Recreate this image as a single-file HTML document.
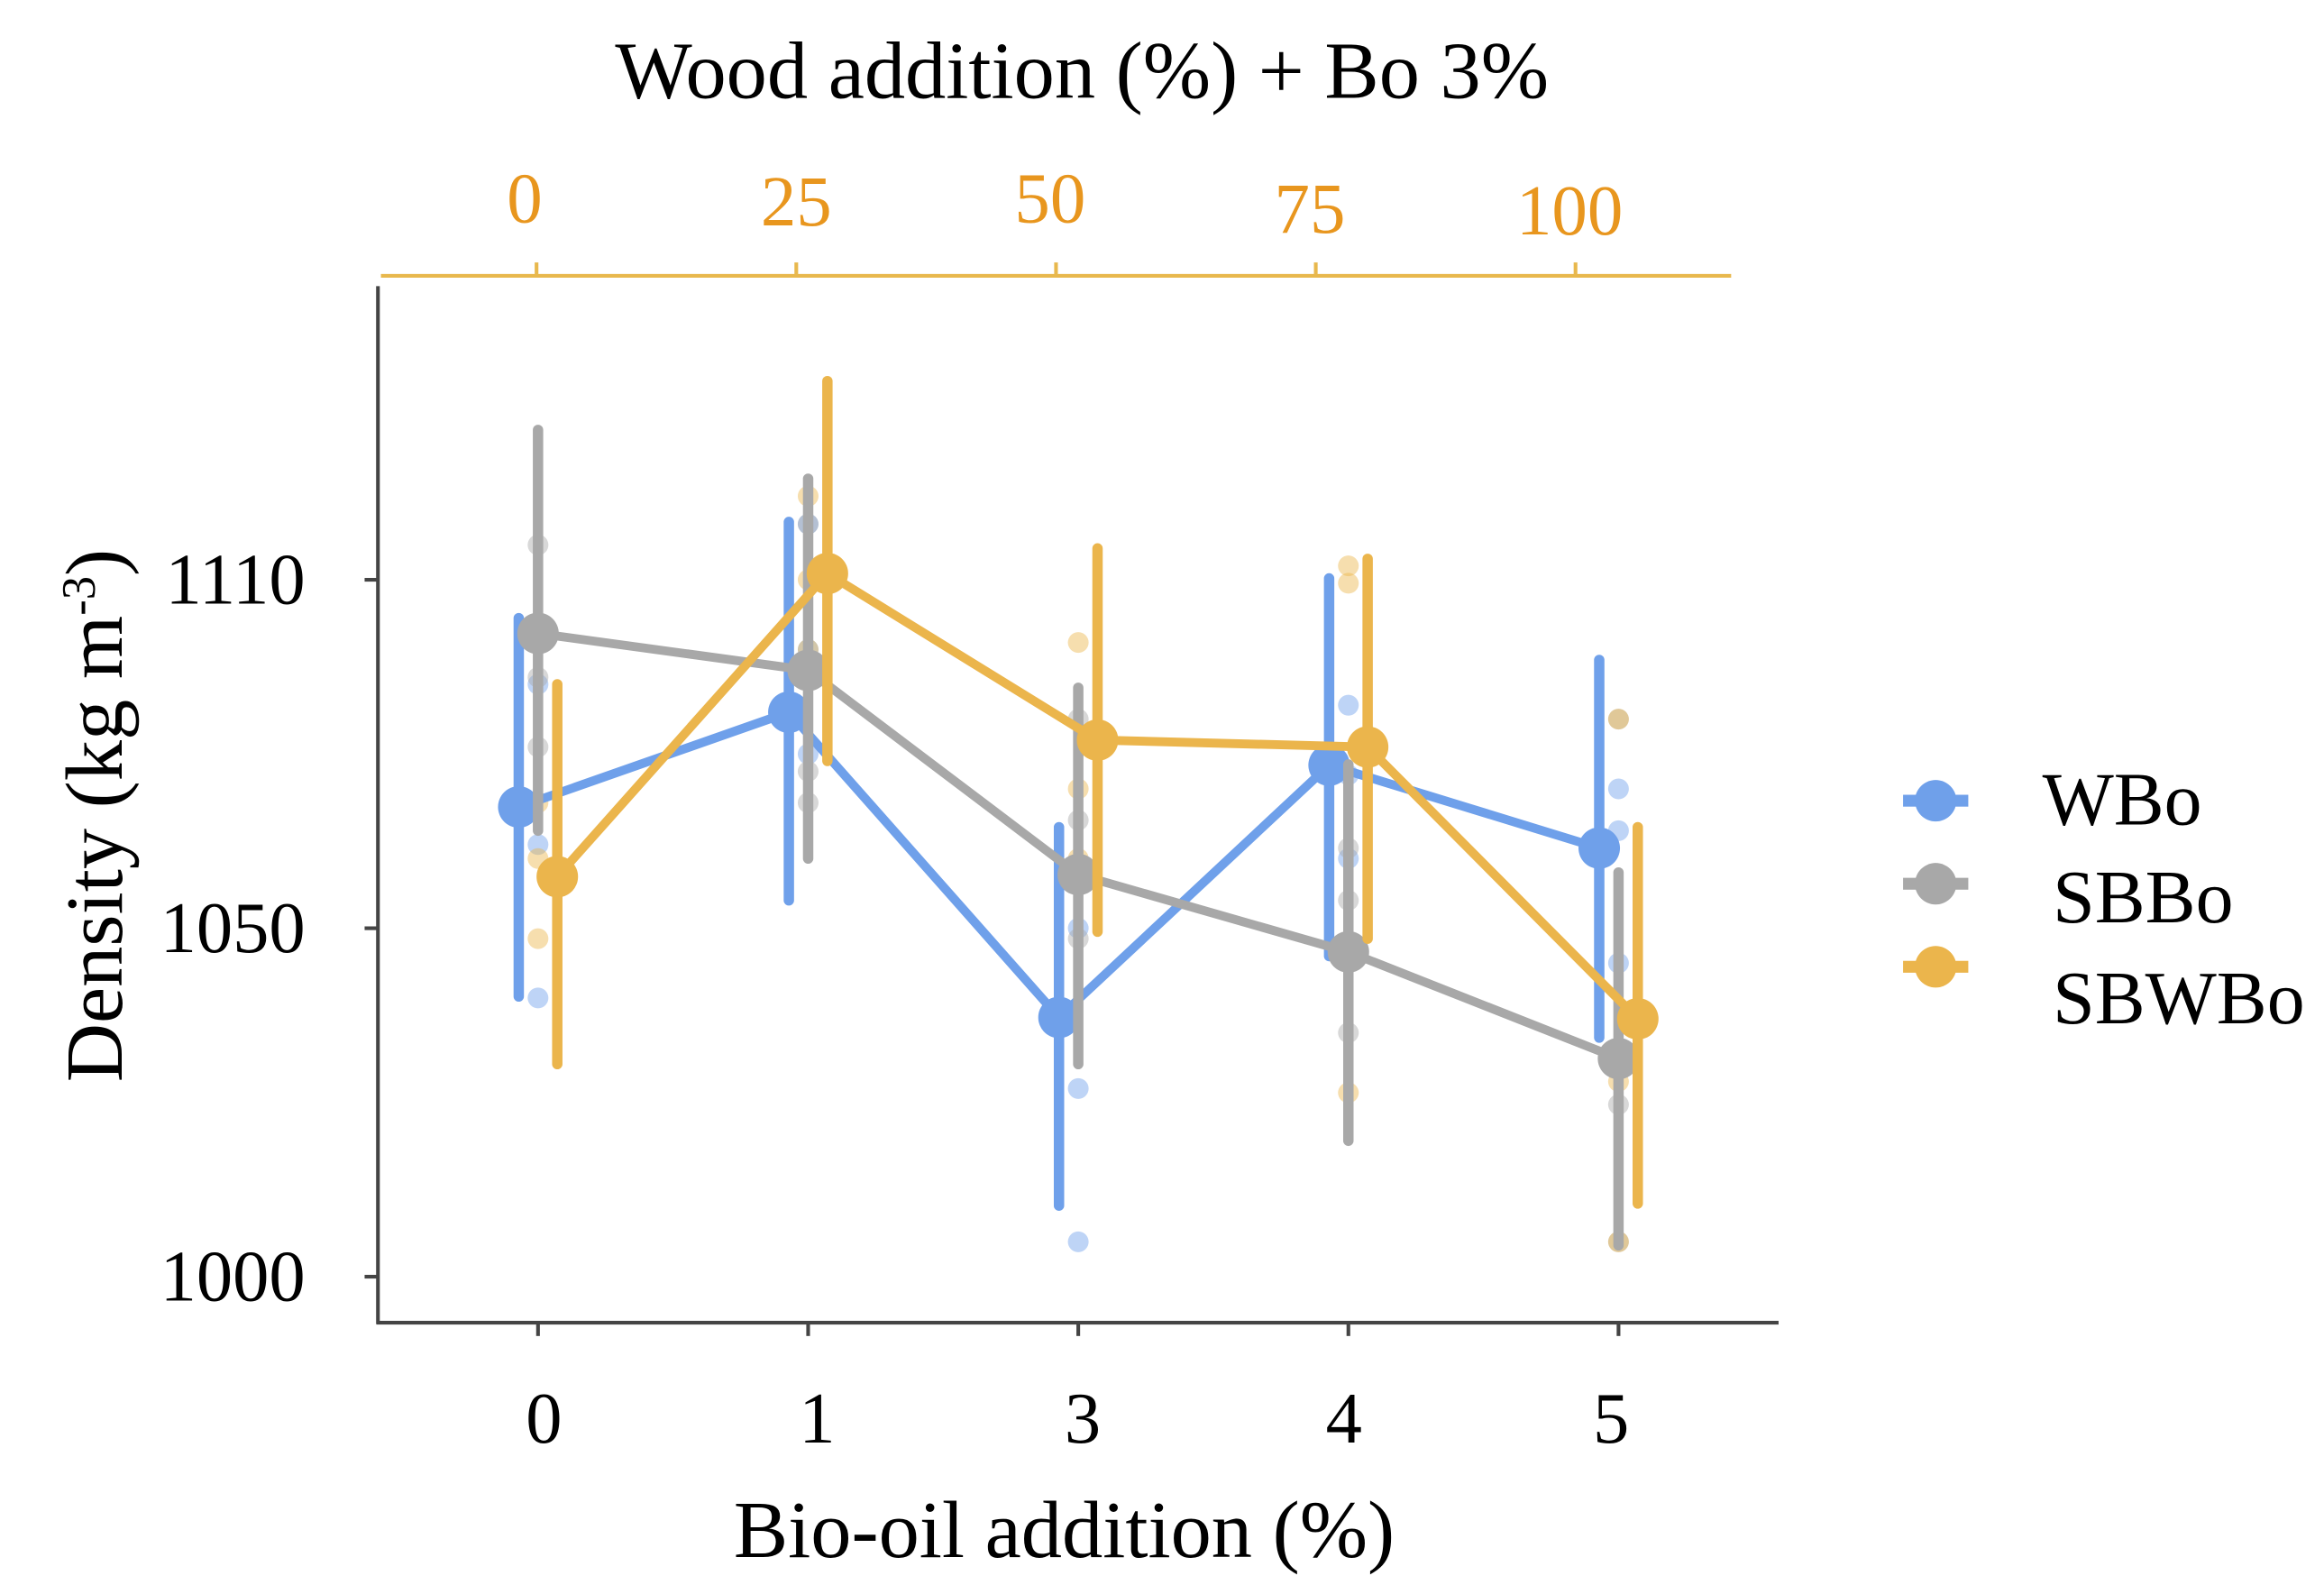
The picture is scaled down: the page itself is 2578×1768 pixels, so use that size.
<!DOCTYPE html>
<html><head><meta charset="utf-8"><style>
html,body{margin:0;padding:0;background:#fff;}
svg{display:block;}
text{font-family:"Liberation Serif",serif;}
</style></head>
<body>
<svg id="chart" width="2578" height="1768" viewBox="0 0 1568 1075" preserveAspectRatio="none" xmlns="http://www.w3.org/2000/svg">
<g id="axes"></g>
<g id="marks"></g>
<g id="legend">
  <g>
    <rect x="1284" y="536" width="44" height="8" fill="#6fa0ea"/><circle cx="1306" cy="540" r="14" fill="#6fa0ea"/>
    <text x="1378" y="556" font-size="51">WBo</text></g>
  <g>
    <rect x="1284" y="592" width="44" height="8" fill="#a8a8a8"/><circle cx="1306" cy="596" r="14" fill="#a8a8a8"/>
    <text x="1385" y="622" font-size="51">SBBo</text></g>
  <g>
    <rect x="1284" y="648" width="44" height="8" fill="#ebb54c"/><circle cx="1306" cy="652" r="14" fill="#ebb54c"/>
    <text x="1385" y="690" font-size="51">SBWBo</text></g>
</g>
<text x="730" y="66" font-size="55" text-anchor="middle">Wood addition (%) + Bo 3%</text>
<text x="718" y="1050" font-size="55" text-anchor="middle">Bio-oil addition (%)</text>
<text transform="translate(82,550) rotate(-90)" font-size="55" text-anchor="middle">Density (kg m<tspan dy="-18" font-size="32">-3</tspan><tspan dy="18">)</tspan></text>
</svg>
<script>
const categories = ["0","1","3","4","5"];
const topLabels = ["0","25","50","75","100"];
const yTickValues = [1000,1050,1100];
const yTickLabels = ["1000","1050","1110"];
const wboMean = [1067.4,1081,1037.2,1073.4,1061.5];
const wboLow = [1040.2,1054,1010.2,1046,1034.3];
const wboHigh = [1094.5,1108.3,1064.5,1100.2,1088.5];
const sbboMean = [1092.3,1087,1057.7,1046.6,1031.3];
const sbboLow = [1064,1060,1030.5,1019.5,1004.5];
const sbboHigh = [1121.5,1114.5,1084.5,1073.5,1058];
const sbwboMean = [1057.4,1100.9,1077,1076,1037];
const sbwboLow = [1030.5,1074,1049.5,1048.5,1010.5];
const sbwboHigh = [1085,1128.5,1104.5,1103,1064.5];
const wboRaw = [[1040,1062,1085],[1075,1090,1108],[1005,1027,1050],[1082,1060,1072],[1064,1045,1070]];
const sbboRaw = [[1105,1086,1076],[1072.5,1068,1108],[1065.5,1048.5,1080],[1061.5,1054,1035],[1080,1024.7,1005]];
const sbwboRaw = [[1048.5,1060,1068],[1100,1112,1090],[1091,1070,1060],[1102,1099.5,1026.4],[1005,1080,1028]];

const NS="http://www.w3.org/2000/svg";
function xb(i){return 363+i*182.25;}
function xt(i){return 362+i*175.25;}
function y(v){return 861-(v-1000)*4.7;}
function mk(tag,attrs,parent){const e=document.createElementNS(NS,tag);for(const k in attrs)e.setAttribute(k,attrs[k]);parent.appendChild(e);return e;}
const axes=document.getElementById('axes'), marks=document.getElementById('marks');

let l=mk('line',{x1:255,y1:193,x2:255,y2:893,stroke:'#444','stroke-width':2.5},axes);


l=mk('line',{x1:254,y1:892,x2:1200,y2:892,stroke:'#444','stroke-width':2.5},axes);


l=mk('line',{x1:257,y1:186,x2:1168,y2:186,stroke:'#e8b84d','stroke-width':2.5},axes);


yTickValues.forEach((v,i)=>{
  let t=mk('line',{x1:246,y1:y(v),x2:255,y2:y(v),stroke:'#444','stroke-width':2.5},axes);
  
  
  let tx=mk('text',{x:206,y:y(v)+16,'font-size':49,'text-anchor':'end'},axes);
  tx.textContent=yTickLabels[i];
  
  
});
const xlOff=[4,6,3,-3,-5];
categories.forEach((c,i)=>{
  let t=mk('line',{x1:xb(i),y1:892,x2:xb(i),y2:901,stroke:'#444','stroke-width':2.5},axes);
  
  
  let tx=mk('text',{x:xb(i)+xlOff[i],y:973,'font-size':49,'text-anchor':'middle'},axes);
  tx.textContent=c;
  
  
});
const tlOff=[-8,0,-4,-4,-4], tlY=[150,152,150,157,158];
topLabels.forEach((c,i)=>{
  let t=mk('line',{x1:xt(i),y1:177,x2:xt(i),y2:186,stroke:'#e8b84d','stroke-width':2.5},axes);
  
  
  let tx=mk('text',{x:xt(i)+tlOff[i],y:tlY[i],'font-size':48,'text-anchor':'middle',fill:'#e8961e'},axes);
  tx.textContent=c;
  
  
});

const series=[
  {name:'wbo',color:'#6fa0ea',mean:wboMean,low:wboLow,high:wboHigh,raw:wboRaw,off:-13},
  {name:'sbbo',color:'#a8a8a8',mean:sbboMean,low:sbboLow,high:sbboHigh,raw:sbboRaw,off:0},
  {name:'sbwbo',color:'#ebb54c',mean:sbwboMean,low:sbwboLow,high:sbwboHigh,raw:sbwboRaw,off:13}
];
series.forEach(s=>{
  s.raw.forEach((pts,i)=>pts.forEach(v=>{
    let c=mk('circle',{cx:xb(i),cy:y(v),r:7,fill:s.color,opacity:0.45},marks);
    
    
  }));
});
series.forEach(s=>{
  s.mean.forEach((v,i)=>{
    let e=mk('line',{x1:xb(i)+s.off,y1:y(s.low[i]),x2:xb(i)+s.off,y2:y(s.high[i]),stroke:s.color,'stroke-width':7,'stroke-linecap':'round'},marks);
    
    
  });
  let p=mk('polyline',{points:s.mean.map((v,i)=>(xb(i)+s.off)+','+y(v)).join(' '),fill:'none',stroke:s.color,'stroke-width':6},marks);
  
  
  s.mean.forEach((v,i)=>{
    let c=mk('circle',{cx:xb(i)+s.off,cy:y(v),r:14,fill:s.color},marks);
    
    
  });
});
</script>
</body></html>
